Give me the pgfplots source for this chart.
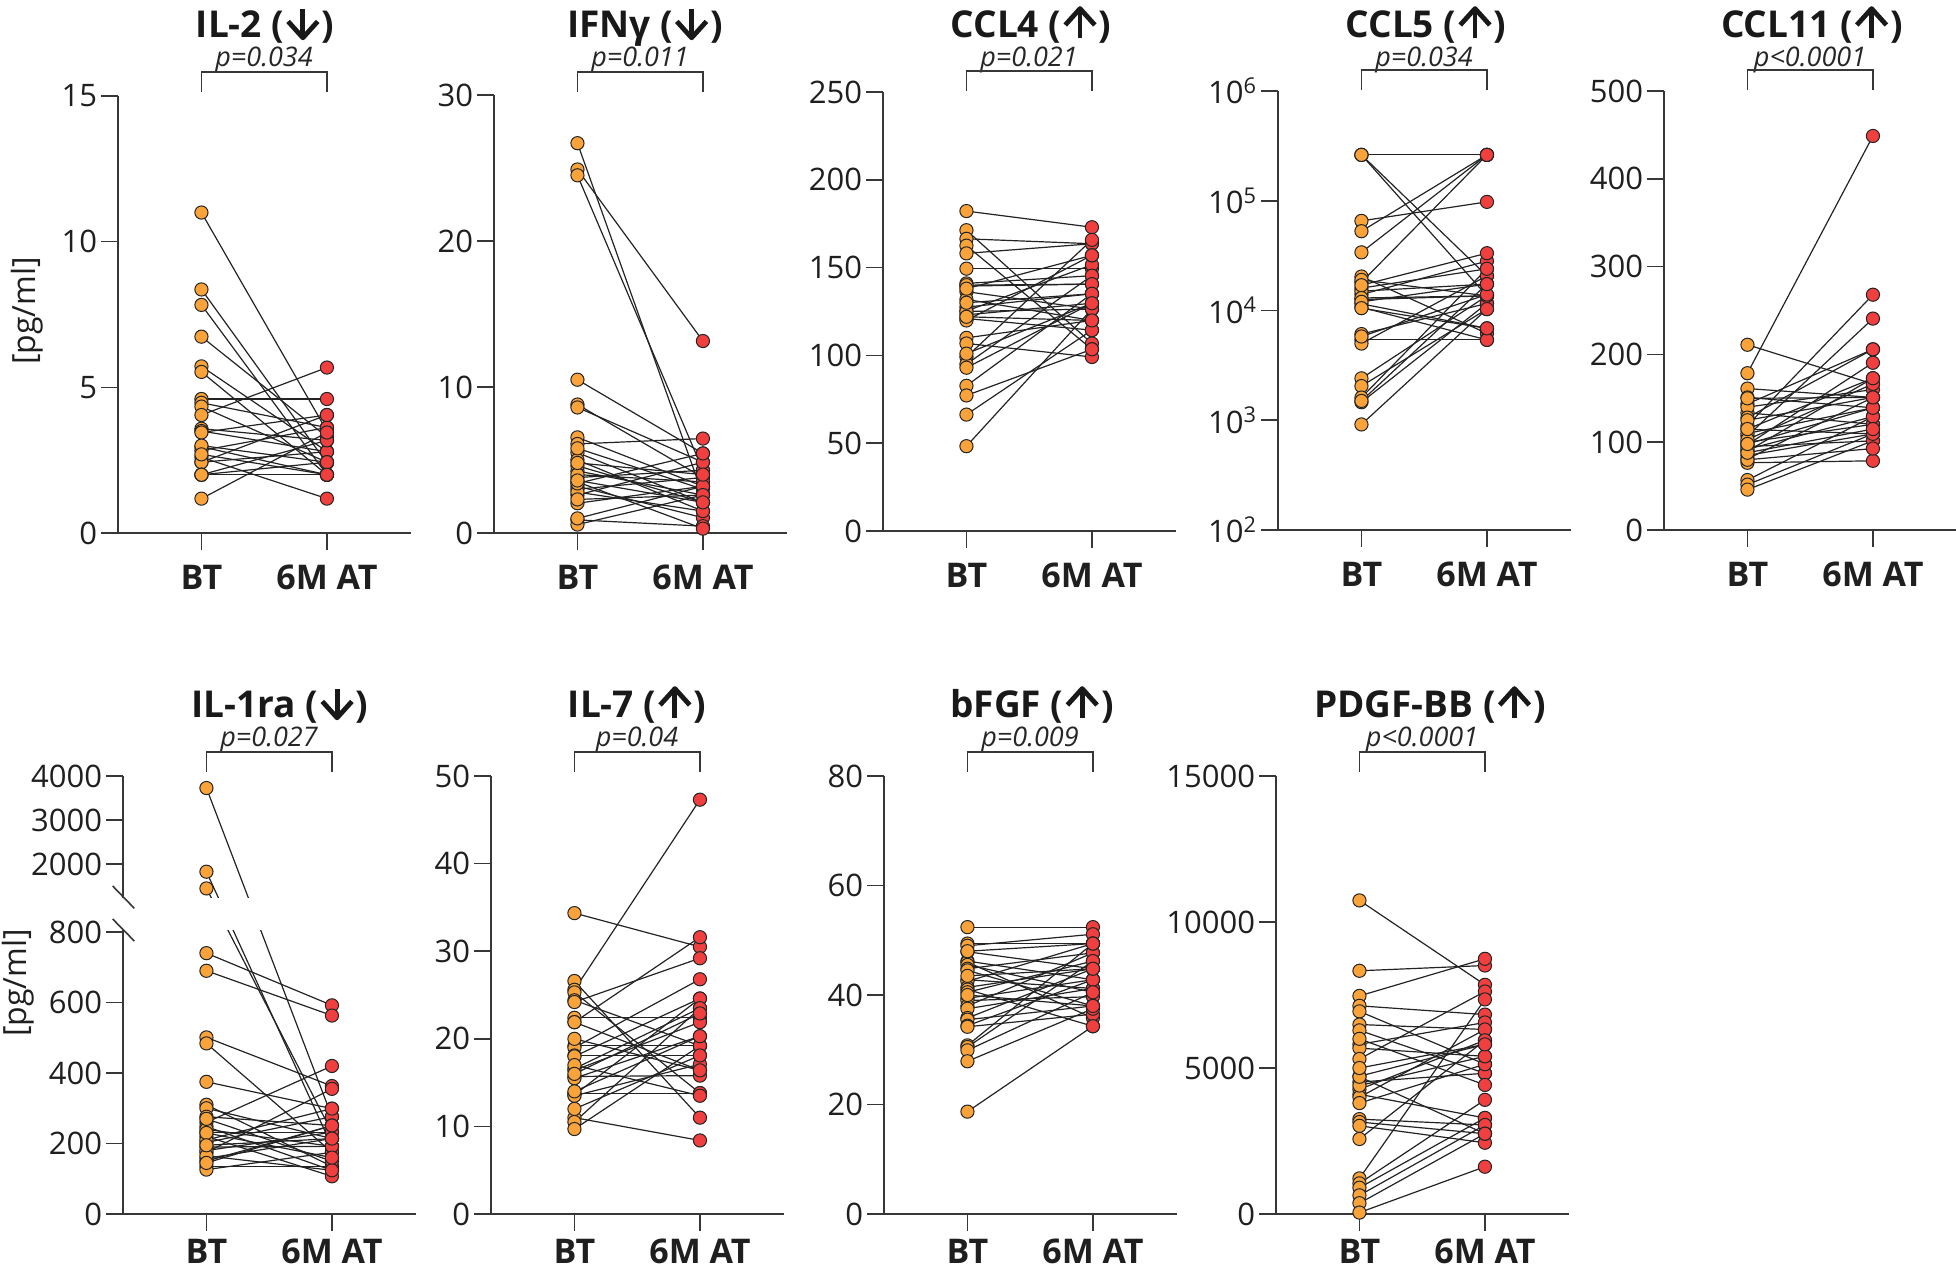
\documentclass[border=0pt]{standalone}
\usepackage{fontspec}
\setmainfont{Open Sans}
\usepackage{pgfplots}
\usepackage{pgfplotstable}
\pgfplotsset{compat=1.18}

\definecolor{btorange}{RGB}{250,163,58}
\definecolor{atred}{RGB}{240,63,63}
\definecolor{axcol}{RGB}{55,55,55}
\definecolor{lncol}{RGB}{35,35,35}

\pgfplotstableread{
bt at
11.0 3.5
8.36 2.4
7.83 2.0
6.74 3.3
5.72 2.8
5.53 2.0
4.60 4.60
4.47 3.62
4.34 2.43
4.05 5.68
3.58 3.18
3.50 2.79
3.45 4.05
2.96 2.0
2.83 3.62
2.60 1.18
2.43 2.79
2.43 4.05
2.00 2.00
2.00 2.43
2.00 3.18
1.18 3.45
3.00 2.43
2.70 2.00
}\tILtwo

\pgfplotstableread{
bt at
26.7 2.6
24.9 13.15
24.5 4.3
10.5 5.45
8.8 3.8
8.6 4.85
6.55 3.2
6.1 6.47
5.5 2.1
5.0 1.5
4.25 2.6
3.8 4.3
3.2 1.05
3.0 3.8
2.6 4.85
2.04 3.2
0.9 0.47
0.58 2.6
5.8 3.0
4.6 2.1
3.5 0.3
2.8 1.5
4.0 3.5
3.4 5.45
1.0 3.2
2.3 2.6
4.8 4.0
3.6 2.1
}\tIFN

\pgfplotstableread{
bt at
182.2 173
171.3 106.8
166.4 163.6
162.5 103.5
158.1 163.6
149.4 149.4
141 145.4
139.5 140.6
136.3 126.4
131.9 119.9
127.5 135.1
125.3 151.6
123.1 129.7
121 114.4
119.9 157
110 119.9
106.8 99.1
99.1 165.8
95 145.4
93 129.7
82.7 135.1
77.2 103.5
66.3 114.4
48.3 126.4
140 140.6
125 126.4
122 119.9
138 157
130 135.1
101 129.7
}\tCCLfour

\pgfplotstableread{
bt at
262000 262000
262000 20700
262000 13600
65600 97700
52800 262000
33900 262000
20400 6190
18100 262000
16000 24000
14000 28200
12600 13600
10700 5400
19000 13600
15000 17400
11500 6880
6100 11600
5400 5400
5000 20700
2410 13600
2050 10300
1610 24000
1460 11600
916 10300
17000 33300
13000 13600
12000 17400
5800 14000
1500 17400
10500 6880
}\tCCLfive

\pgfplotstableread{
bt at
211 166.4
178.6 448.8
161.1 151
151 139.2
143.6 205.8
133.5 120.4
119 268
114.7 109.5
107.2 240.8
97.2 190.5
89.8 172.9
81 151
76.6 78.8
56.9 129.2
51.7 109.5
46 101.6
140 160
128 205.8
110 139.2
100 120.4
95 101.6
92 129.2
85 109.5
80 92.8
125 151
103 166.4
88 115
98 139.2
115 172.9
150 151
}\tCCLeleven

\pgfplotstableread{
bt at
3727 276
1825 192
1445 232
740 592
690 563
501 363
484 175
375 299
310 135
300 214
276 251
260 420
248 124
232 232
220 107
203 276
190 192
175 355
158 214
150 251
135 135
126 175
240 192
270 150
210 299
180 232
165 124
145 251
230 160
195 214
}\tILra

\pgfplotstableread{
bt at
34.35 30.5
26.6 11
25.6 47.3
25.3 13.8
24.4 19.2
24.2 29.2
22.4 22.4
21.9 31.6
21.9 16.4
19.2 19.2
19.0 26.8
18.1 18.1
18.0 24.6
16.6 23.5
16.4 21.9
15.7 15.8
15.5 20.3
13.8 13.8
13.6 24.6
13.5 17.1
11 8.4
10.5 23.5
9.7 19.2
17.0 13.5
20.0 16.4
14.0 20.3
16.0 22.9
12.0 18.1
}\tILseven

\pgfplotstableread{
bt at
52.4 52.4
49.4 49.4
49.0 51.1
47.9 44.8
46.2 42.8
46.0 35.8
45.5 40.5
44.8 47.7
44.5 38
42.8 41.2
42.5 49.4
41.4 44.8
41.0 34.3
40.5 46.2
39.4 42.8
39.0 39.7
38 47.7
37.5 41.2
35.8 44.8
35.5 38
34.4 42.8
34.2 36.5
30.8 49.4
30.5 46.2
29.9 40.5
27.9 37.5
18.7 34.3
43.5 44.8
48 49.4
40 38
}\tbFGF

\pgfplotstableread{
bt at
10740 7850
8330 8510
7470 8740
7130 6830
6940 5130
6490 6320
6290 4820
5810 6560
5680 5400
5310 7620
4720 5810
4520 4820
4270 5950
4100 3290
4000 6320
3800 5130
3250 3050
3150 2750
3020 2440
2570 5950
1220 7350
1050 3910
900 3290
640 3050
370 2750
50 1620
4400 5400
4700 2750
6000 4420
5000 5810
}\tPDGF

\pgfplotsset{
  panel/.style={
    scale only axis, width=146.5pt, anchor=south west, clip=false,
    axis lines=left,
    axis line style={-, line width=0.8pt, draw=axcol},
    every outer x axis line/.append style={-},
    every outer y axis line/.append style={-},
    xmin=0.335, xmax=2.67, xtick={1,2}, xticklabels={BT,6M AT},
    minor tick num=0, xminorticks=false, yminorticks=false,
    tick align=outside, major tick length=8.5pt,
    tick style={line width=0.8pt, draw=axcol},
    tick label style={font=\fontsize{15.5}{15.5}\selectfont, text=black!88},
    xticklabel style={font=\bfseries\fontsize{17}{17}\selectfont, inner sep=0pt, yshift=-7.5pt},
    yticklabel style={inner sep=1.8pt},
    /pgf/number format/assume math mode=true,
    /pgf/number format/1000 sep={},
    scaled y ticks=false,
  },
  botrow/.style={xticklabel style={yshift=3.5pt}},
  pairline/.style={lncol, line width=0.6pt, mark=none, forget plot},
  btmark/.style={only marks, mark=*, mark size=3.3pt, mark options={fill=btorange, draw=lncol, line width=0.5pt}, forget plot},
  atmark/.style={only marks, mark=*, mark size=3.3pt, mark options={fill=atred, draw=lncol, line width=0.5pt}, forget plot},
}

\newcommand\pairlines[1]{%
  \pgfplotstablegetrowsof{#1}%
  \pgfmathtruncatemacro\nrows{\pgfplotsretval-1}%
  \pgfplotsforeachungrouped \i in {0,...,\nrows}{%
    \pgfplotstablegetelem{\i}{bt}\of{#1}\let\vbt\pgfplotsretval
    \pgfplotstablegetelem{\i}{at}\of{#1}\let\vat\pgfplotsretval
    \edef\tmp{\noexpand\addplot[pairline] coordinates {(1,\vbt) (2,\vat)};}\tmp
  }%
}
\newcommand\pairmarks[1]{%
  \addplot[btmark] table[x expr=1, y=bt] {#1};
  \addplot[atmark] table[x expr=2, y=at] {#1};
}

% arrows drawn as glyph-like pictures
\newcommand\dnarr{\kern0.8pt\tikz[baseline=0pt]{\draw[black!90, line width=2.4pt, line cap=butt] (0pt,14pt) -- (0pt,1pt);
  \draw[black!90, line width=2.4pt, line join=round, line cap=butt] (-7.4pt,7.8pt) -- (0pt,-0.4pt) -- (7.4pt,7.8pt);}\kern0.8pt}
\newcommand\uparr{\kern0.8pt\tikz[baseline=0pt]{\draw[black!90, line width=2.4pt, line cap=butt] (0pt,-0.4pt) -- (0pt,13pt);
  \draw[black!90, line width=2.4pt, line join=round, line cap=butt] (-7.4pt,6pt) -- (0pt,14.2pt) -- (7.4pt,6pt);}\kern0.8pt}

\newcommand\ttl[3]{\node[anchor=base, inner sep=0pt, font=\bfseries\fontsize{18.5}{19}\selectfont, text=black!90] at (#1,#2) {#3};}
\newcommand\pval[3]{\node[anchor=base, inner sep=0pt, font=\itshape\fontsize{13.5}{14}\selectfont, text=black!85] at (#1,#2) {#3};}
\newcommand\brk[3]{\draw[axcol, line width=0.7pt] (#1,#3+20) -- (#1,#3) -- (#2,#3) -- (#2,#3+20);}

\begin{document}
\begin{tikzpicture}
\path[use as bounding box] (0,0) rectangle (978pt,-635.5pt);

% ---------- top row ----------
\begin{axis}[panel, at={(59pt,-266.5pt)}, height=218.5pt, ymin=0, ymax=15, ytick={0,5,10,15}]
\pairlines{\tILtwo}\pairmarks{\tILtwo}
\end{axis}

\begin{axis}[panel, at={(247pt,-266.5pt)}, height=219pt, ymin=0, ymax=30, ytick={0,10,20,30}]
\pairlines{\tIFN}\pairmarks{\tIFN}
\end{axis}

\begin{axis}[panel, at={(441.5pt,-265.5pt)}, height=219.5pt, ymin=0, ymax=250, ytick={0,50,100,150,200,250}]
\pairlines{\tCCLfour}\pairmarks{\tCCLfour}
\end{axis}

\begin{axis}[panel, at={(639pt,-265pt)}, height=219.5pt, ymode=log, ymin=100, ymax=1000000,
  ytick={100,1000,10000,100000,1000000},
  yticklabels={10\textsuperscript{2},10\textsuperscript{3},10\textsuperscript{4},10\textsuperscript{5},10\textsuperscript{6}}]
\pairlines{\tCCLfive}\pairmarks{\tCCLfive}
\end{axis}

\begin{axis}[panel, at={(832pt,-265pt)}, height=219.5pt, ymin=0, ymax=500, ytick={0,100,200,300,400,500}]
\pairlines{\tCCLeleven}\pairmarks{\tCCLeleven}
\end{axis}

% ---------- bottom row ----------
\begin{axis}[panel, botrow, at={(61.5pt,-607pt)}, height=219pt,
  y coord trafo/.code={\pgfmathparse{ifthenelse(#1<=900,#1,992.9+(#1-2000)*0.1248)}},
  ymin=0, ymax=4000, ytick={0,200,400,600,800,2000,3000,4000},
  yticklabels={0,200,400,600,800,2000,3000,4000}]
\pairlines{\tILra}
\addplot[fill=white, draw=none, forget plot] coordinates {(0.25,806) (2.75,806) (2.75,1224) (0.25,1224)};
\pairmarks{\tILra}
\end{axis}

\begin{axis}[panel, botrow, at={(245.5pt,-607pt)}, height=219pt, ymin=0, ymax=50, ytick={0,10,20,30,40,50}]
\pairlines{\tILseven}\pairmarks{\tILseven}
\end{axis}

\begin{axis}[panel, botrow, at={(442pt,-607pt)}, height=219pt, ymin=0, ymax=80, ytick={0,20,40,60,80}]
\pairlines{\tbFGF}\pairmarks{\tbFGF}
\end{axis}

\begin{axis}[panel, botrow, at={(638pt,-607pt)}, height=219pt, ymin=0, ymax=15000, ytick={0,5000,10000,15000}]
\pairlines{\tPDGF}\pairmarks{\tPDGF}
\end{axis}

% ---------- annotations ----------
\begin{scope}[x=0.5pt, y=-0.5pt]
\ttl{265}{37}{IL-2 (\dnarr)}
\ttl{645}{37}{IFNγ (\dnarr)}
\ttl{1031}{37}{CCL4 (\uparr)}
\ttl{1426}{37}{CCL5 (\uparr)}
\ttl{1812}{37}{CCL11 (\uparr)}
\pval{264}{66}{p=0.034}
\pval{640}{66}{p=0.011}
\pval{1029}{66}{p=0.021}
\pval{1424}{66}{p=0.034}
\pval{1810}{66}{p<0.0001}
\brk{201.5}{327}{72}
\brk{577.5}{703}{72}
\brk{966.5}{1092}{71}
\brk{1361.5}{1487}{70}
\brk{1747.5}{1873}{70}

\ttl{280}{717}{IL-1ra (\dnarr)}
\ttl{637}{717}{IL-7 (\uparr)}
\ttl{1032}{717}{bFGF (\uparr)}
\ttl{1430}{717}{PDGF-BB (\uparr)}
\pval{269}{746}{p=0.027}
\pval{637}{746}{p=0.04}
\pval{1030}{746}{p=0.009}
\pval{1422}{746}{p<0.0001}
\brk{206.5}{332}{752}
\brk{574.5}{700}{752}
\brk{967.5}{1093}{752}
\brk{1359.5}{1485}{752}

\node[rotate=90, font=\fontsize{16}{16}\selectfont, text=black!88] at (27,311) {[pg/ml]};
\node[rotate=90, font=\fontsize{16}{16}\selectfont, text=black!88] at (18,983) {[pg/ml]};

\draw[axcol, line width=0.8pt] (112.7,886) -- (134.3,908.3);
\draw[axcol, line width=0.8pt] (112.7,919) -- (134.3,941);
\end{scope}
\end{tikzpicture}
\end{document}
